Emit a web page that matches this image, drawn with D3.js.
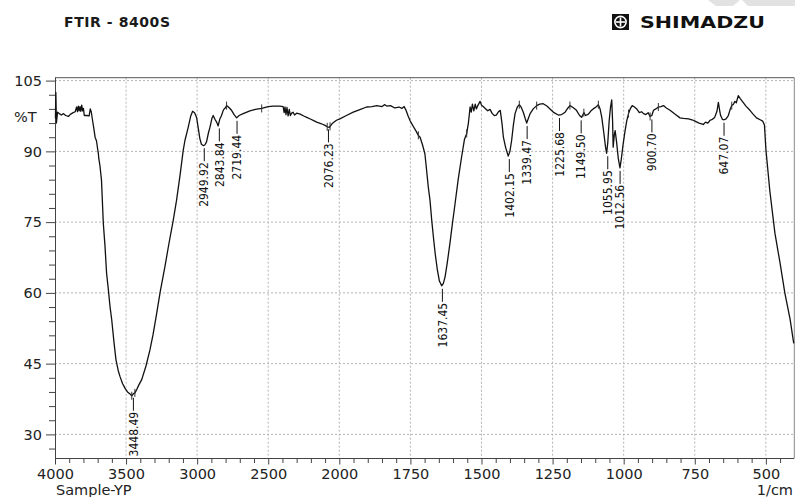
<!DOCTYPE html>
<html>
<head>
<meta charset="utf-8">
<script src="https://cdn.jsdelivr.net/npm/d3@7"></script>
<style>
  body { margin: 0; background: #fff; }
  svg { display: block; }
  .axis text { font-family: "DejaVu Sans", sans-serif; font-size: 14.5px; fill: #222; }
  .axis path, .axis line { stroke: #444; }
  .peak-label { font-family: "Liberation Sans Narrow", "DejaVu Sans Condensed", sans-serif; font-size: 12px; fill: #111; }
</style>
</head>
<body>
<svg id="chart"></svg>
<script>
// spectrum (1/cm, %T)
const wavenumbers = [
  3997, 3994, 3990, 3982, 3970, 3955, 3940, 3925, 3906, 3890, 3872, 3858, 3848, 3842, 3836, 3830, 3824, 3818, 3812, 3806,
  3800, 3794, 3775, 3760, 3752, 3745, 3736, 3725, 3718, 3708, 3700, 3695, 3692, 3684, 3673, 3660, 3648, 3637, 3625, 3613,
  3601, 3585, 3571, 3555, 3543, 3525, 3508, 3490, 3470, 3460, 3449, 3438, 3425, 3410, 3390, 3360, 3332, 3310, 3297, 3285,
  3260, 3227, 3200, 3168, 3145, 3120, 3098, 3086, 3063, 3045, 3032, 3018, 3004, 2990, 2981, 2970, 2955, 2945, 2934, 2920,
  2910, 2896, 2887, 2875, 2863, 2852, 2846, 2840, 2830, 2815, 2800, 2793, 2780, 2758, 2740, 2722, 2705, 2676, 2629, 2590,
  2546, 2500, 2465, 2420, 2395, 2388, 2382, 2375, 2368, 2360, 2352, 2344, 2335, 2325, 2315, 2300, 2275, 2250, 2229, 2200,
  2180, 2159, 2130, 2100, 2085, 2070, 2050, 2020, 1998, 1975, 1951, 1930, 1904, 1885, 1868, 1850, 1840, 1833, 1820, 1805,
  1790, 1780, 1772, 1766, 1758, 1751, 1740, 1730, 1722, 1716, 1708, 1699, 1693, 1687, 1681, 1675, 1669, 1663, 1655, 1648,
  1640, 1634, 1628, 1620, 1611, 1602, 1593, 1582, 1570, 1560, 1552, 1546, 1540, 1536, 1532, 1527, 1522, 1518, 1513, 1505,
  1500, 1494, 1485, 1478, 1470, 1462, 1455, 1448, 1440, 1434, 1428, 1423, 1415, 1406, 1400, 1394, 1388, 1382, 1374, 1367,
  1360, 1353, 1346, 1341, 1335, 1329, 1318, 1306, 1295, 1283, 1270, 1259, 1245, 1230, 1218, 1206, 1196, 1189, 1178, 1166,
  1155, 1148, 1140, 1134, 1124, 1115, 1107, 1095, 1089, 1083, 1077, 1070, 1064, 1060, 1056, 1051, 1046, 1042, 1039, 1037,
  1033, 1030, 1025, 1019, 1013, 1008, 1002, 995, 989, 983, 977, 970, 962, 954, 945, 937, 930, 922, 914, 907,
  901, 895, 887, 878, 869, 860, 850, 837, 820, 802, 790, 772, 760, 749, 735, 720, 712, 704, 696, 688,
  680, 672, 667, 662, 659, 653, 647, 640, 632, 626, 620, 614, 609, 604, 597, 590, 580, 570, 556, 545,
  533, 520, 511, 505, 500, 486, 468, 450, 433, 415, 402
];
const transmittance = [
  97.0, 102.5, 96.0, 98.3, 98.0, 97.7, 98.0, 97.6, 97.4, 97.9, 98.2, 98.4, 99.4, 98.4, 99.6, 98.6, 99.5, 98.5, 99.8, 98.6,
  99.1, 97.6, 97.6, 97.5, 99.0, 98.4, 96.6, 94.5, 93.0, 92.2, 90.5, 89.5, 88.5, 87.0, 83.9, 74.7, 69.8, 64.1, 60.8, 57.1,
  54.3, 49.5, 45.8, 43.5, 42.3, 40.8, 39.8, 39.0, 38.5, 38.2, 38.6, 38.8, 39.5, 40.5, 41.6, 44.5, 47.9, 51.2, 53.5, 55.6,
  60.2, 65.5, 70.2, 75.4, 79.6, 85.0, 90.2, 92.3, 95.1, 97.5, 98.5, 98.2, 97.2, 94.5, 92.7, 91.5, 91.2, 91.4, 92.0, 94.0,
  95.1, 97.0, 97.6, 96.8, 96.2, 95.4, 96.2, 96.9, 97.5, 98.8, 99.3, 99.7, 99.4, 98.7, 97.8, 97.1, 97.6, 98.0, 98.6, 98.9,
  99.1, 99.5, 99.6, 99.6, 99.5, 98.2, 99.4, 97.8, 99.3, 97.5, 98.9, 97.6, 98.1, 98.3, 97.7, 98.1, 97.9, 97.5, 97.2, 96.8,
  96.5, 96.2, 95.9, 95.5, 95.2, 95.1, 95.9, 96.6, 96.9, 97.6, 98.3, 98.8, 99.4, 99.5, 99.7, 99.5, 99.9, 99.6, 99.7, 99.2,
  99.4, 99.1, 99.5, 98.8, 97.5, 96.5, 95.3, 94.3, 93.4, 93.0, 91.5, 89.5, 86.0, 82.4, 79.6, 75.4, 71.8, 68.4, 64.8, 62.5,
  61.5, 62.0, 63.4, 66.5, 70.5, 74.8, 78.9, 84.0, 88.8, 92.5, 93.8, 96.0, 99.4, 98.3, 100.0, 98.6, 100.0, 99.0, 99.7, 100.6,
  99.8, 99.5, 99.0, 98.6, 98.9, 98.0, 97.6, 97.7, 98.4, 98.7, 96.0, 93.0, 90.8, 89.0, 90.0, 92.3, 95.5, 98.0, 99.4, 99.9,
  99.3, 98.3, 96.9, 96.0, 97.0, 98.0, 99.0, 99.7, 100.0, 100.1, 99.6, 99.0, 98.2, 97.7, 97.8, 98.3, 99.2, 99.7, 99.3, 98.7,
  97.6, 97.2, 98.2, 97.6, 97.9, 98.6, 99.0, 99.5, 99.9, 99.0, 97.2, 94.0, 91.0, 89.6, 91.8, 96.5, 99.5, 100.9, 96.5, 90.9,
  93.5, 94.4, 92.0, 88.5, 86.5, 88.5, 91.5, 94.4, 96.5, 98.0, 99.0, 99.7, 99.4, 99.0, 98.2, 98.4, 98.0, 97.8, 98.2, 97.4,
  97.6, 98.7, 99.0, 99.4, 99.5, 99.7, 99.2, 98.7, 97.9, 97.1, 97.0, 96.9, 96.7, 96.4, 96.0, 95.7, 96.2, 96.0, 96.6, 96.8,
  97.2, 98.5, 100.4, 98.5, 97.6, 96.8, 96.7, 96.9, 97.6, 98.8, 99.7, 100.0, 100.6, 100.3, 101.8, 101.2, 100.4, 99.6, 98.7, 97.9,
  97.1, 96.7, 96.4, 95.6, 90.5, 81.6, 72.6, 66.3, 59.9, 54.5, 49.3
];

// picked peaks
const peakWn = [3448.49, 2949.92, 2843.84, 2719.44, 2076.23, 1637.45, 1402.15, 1339.47, 1225.68, 1149.50, 1055.95, 1012.56, 900.70, 647.07];
const peakT = [38.4, 91.3, 95.5, 97.1, 95.3, 61.5, 89.0, 96.0, 97.7, 97.2, 89.6, 86.5, 97.4, 96.7];

// small tick marks on the trace
const markWn = [3460, 3438, 2793, 2546, 2085, 2065, 1722, 1552, 1367, 1306, 1189, 1140, 1089, 983, 907, 878, 620];

const xTicks = [4000, 3500, 3000, 2500, 2000, 1750, 1500, 1250, 1000, 750, 500];
const yTicks = [30, 45, 60, 75, 90, 105];

const width = 795, height = 497;
const plotLeft = 55, plotTop = 77.7, plotBottom = 458, plotRight = 794.3;

const svg = d3.select("#chart")
    .attr("width", width)
    .attr("height", height);

// split scale like the instrument printout (2000 1/cm break)
const x = d3.scaleLinear()
    .domain([4000, 2000, 400])
    .range([plotLeft, 339.3, plotRight]);

const y = d3.scaleLinear()
    .domain([105, 30])
    .range([80.6, 434.4]);

// header
svg.append("text")
    .attr("x", 64).attr("y", 27)
    .attr("textLength", 106).attr("lengthAdjust", "spacing")
    .style("font-family", "'DejaVu Sans', sans-serif")
    .style("font-weight", "bold")
    .style("font-size", "14px")
    .style("fill", "#1a1a1a")
    .text("FTIR - 8400S");

const logo = svg.append("g");
logo.append("rect").attr("x", 612).attr("y", 14).attr("width", 17).attr("height", 16).attr("fill", "#111");
logo.append("circle").attr("cx", 620.5).attr("cy", 22).attr("r", 5.6).attr("fill", "none").attr("stroke", "#fff").attr("stroke-width", 1.6);
logo.append("line").attr("x1", 616).attr("x2", 625).attr("y1", 22).attr("y2", 22).attr("stroke", "#fff").attr("stroke-width", 1.6);
logo.append("line").attr("x1", 620.5).attr("x2", 620.5).attr("y1", 17.5).attr("y2", 26.5).attr("stroke", "#fff").attr("stroke-width", 1.6);
svg.append("text")
    .attr("x", 640).attr("y", 28)
    .attr("textLength", 125).attr("lengthAdjust", "spacingAndGlyphs")
    .style("font-family", "'DejaVu Sans', sans-serif")
    .style("font-weight", "bold")
    .style("font-size", "15px")
    .style("fill", "#111")
    .text("SHIMADZU");

// faint scan artefacts top right
svg.append("polygon").attr("points", "708,0 740,0 733,6 716,6").attr("fill", "#e2e2e2");
svg.append("polygon").attr("points", "742,0 795,0 795,6 748,6").attr("fill", "#e2e2e2");

// grid
const grid = svg.append("g").attr("stroke", "#b5b5b5").attr("stroke-dasharray", "2,2").attr("stroke-width", 1);
grid.selectAll(".gx")
    .data(xTicks.slice(1))
    .enter().append("line")
    .attr("x1", d => x(d)).attr("x2", d => x(d))
    .attr("y1", plotTop).attr("y2", plotBottom);
grid.selectAll(".gy")
    .data(yTicks)
    .enter().append("line")
    .attr("x1", plotLeft).attr("x2", plotRight)
    .attr("y1", d => y(d)).attr("y2", d => y(d));

// frame top / right
svg.append("line").attr("x1", plotLeft).attr("x2", plotRight).attr("y1", plotTop).attr("y2", plotTop).attr("stroke", "#555");
svg.append("line").attr("x1", plotRight).attr("x2", plotRight).attr("y1", plotTop).attr("y2", plotBottom).attr("stroke", "#888");

// x axis
const xMinor = d3.range(3900, 2000, -100).concat(d3.range(1950, 400, -50)).filter(d => xTicks.indexOf(d) < 0);
svg.append("g")
    .attr("class", "axis")
    .attr("transform", "translate(0," + plotBottom + ")")
    .call(d3.axisBottom(x).tickValues(xMinor).tickSize(5).tickFormat(""))
    .call(g => g.select(".domain").remove());
svg.append("g")
    .attr("class", "axis")
    .attr("transform", "translate(0," + plotBottom + ")")
    .call(d3.axisBottom(x).tickValues(xTicks).tickSize(6.5).tickSizeOuter(0).tickPadding(4).tickFormat(d3.format("d")))
    .call(g => g.select(".domain").attr("d", "M" + plotLeft + ",0.5H" + plotRight));

// y axis
const yMinor = d3.range(27, 106, 3).filter(d => d % 15 !== 0);
svg.append("g")
    .attr("class", "axis")
    .attr("transform", "translate(" + plotLeft + ",0)")
    .call(d3.axisLeft(y).tickValues(yMinor).tickSize(6).tickFormat(""))
    .call(g => g.select(".domain").remove());
svg.append("g")
    .attr("class", "axis")
    .attr("transform", "translate(" + plotLeft + ",0)")
    .call(d3.axisLeft(y).tickValues(yTicks).tickSize(9).tickSizeOuter(0).tickPadding(4))
    .call(g => g.select(".domain").attr("d", "M0.5," + plotTop + "V" + plotBottom));

// axis captions
const cap = svg.append("g").attr("class", "axis");
cap.append("text").attr("x", 14).attr("y", 122).text("%T");
cap.append("text").attr("x", 56).attr("y", 495).text("Sample-YP");
cap.append("text").attr("x", 793).attr("y", 495).attr("text-anchor", "end").text("1/cm");

// trace
const pts = wavenumbers.map((w, i) => [w, transmittance[i]]);
const line = d3.line()
    .x(d => x(d[0]))
    .y(d => y(d[1]));
svg.append("path")
    .datum(pts)
    .attr("fill", "none")
    .attr("stroke", "#111")
    .attr("stroke-width", 1.3)
    .attr("stroke-linejoin", "round")
    .attr("d", line);

// peak tick marks on trace
const bis = d3.bisector(d => -d[0]).left;
function valueAt(w) {
    const i = Math.min(Math.max(bis(pts, -w), 1), pts.length - 1);
    const a = pts[i - 1], b = pts[i];
    return a[1] + (b[1] - a[1]) * (w - a[0]) / (b[0] - a[0]);
}
svg.selectAll(".mark")
    .data(markWn)
    .enter().append("line")
    .attr("x1", d => x(d)).attr("x2", d => x(d))
    .attr("y1", d => y(valueAt(d)) - 4)
    .attr("y2", d => y(valueAt(d)) + 4)
    .attr("stroke", "#333").attr("stroke-width", 1);

// peak labels
const peaks = peakWn.map((w, i) => ({ w: w, t: peakT[i] }));
const pl = svg.selectAll(".peak").data(peaks).enter().append("g");
pl.append("line")
    .attr("x1", d => x(d.w)).attr("x2", d => x(d.w))
    .attr("y1", d => y(d.t) + 3)
    .attr("y2", d => y(d.t) + 16)
    .attr("stroke", "#111");
pl.append("text")
    .attr("class", "peak-label")
    .attr("transform", d => "translate(" + x(d.w) + "," + (y(d.t) + 17) + ") rotate(-90)")
    .attr("text-anchor", "end")
    .attr("dy", "0.35em")
    .text(d => d.w.toFixed(2));
</script>
</body>
</html>
